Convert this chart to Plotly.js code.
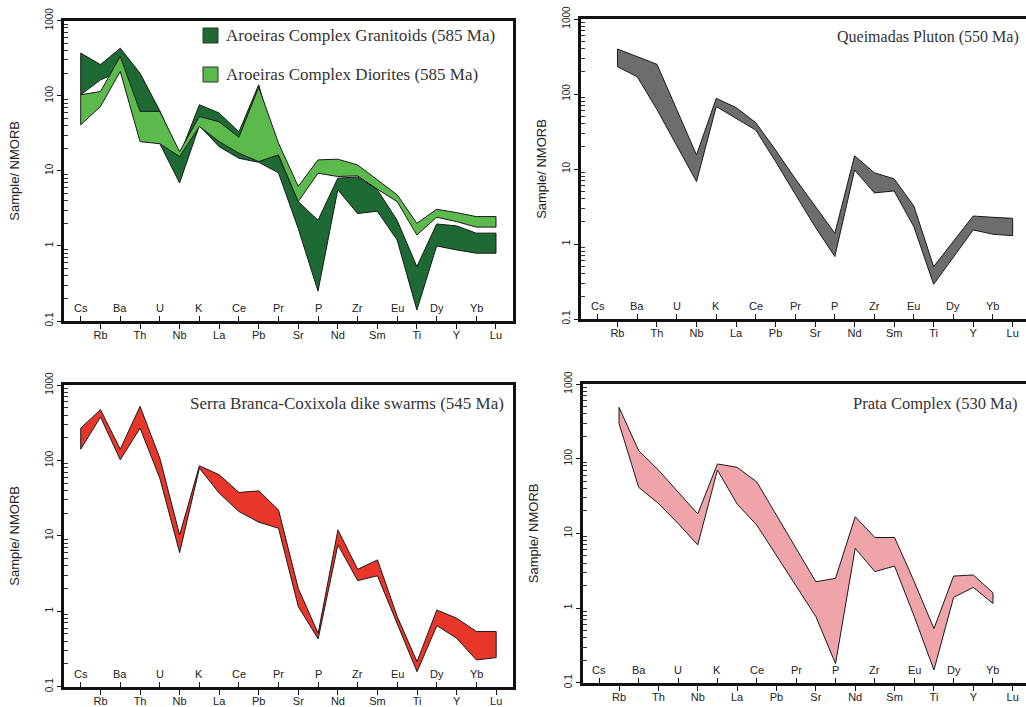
<!DOCTYPE html>
<html>
<head>
<meta charset="utf-8">
<script src="https://cdn.plot.ly/plotly-3.0.1.min.js"></script>
<style>
  html, body { margin: 0; padding: 0; background: #ffffff; overflow: hidden; }
  #chart { width: 1040px; height: 707px; }
</style>
</head>
<body>
<div id="chart"></div>
<script>
// ---------------- data ----------------
const ELEMENTS = ['Cs','Rb','Ba','Th','U','Nb','K','La','Ce','Pb','Pr','Sr','P','Nd','Zr','Sm','Eu','Ti','Dy','Y','Yb','Lu'];

// Aroeiras Complex Granitoids (585 Ma)
const GRAN_HI = [370, 260, 430, 200, 63, 16, 76, 59, 33, 140, 16, 3.9, 2.2, 8.0, 8.3, 5.6, 2.2, 0.53, 1.96, 1.85, 1.48, 1.48];
const GRAN_LO = [103, 163, 211, 62, 23, 6.9, 40, 21, 14.7, 13, 9.4, 1.7, 0.25, 5.6, 2.7, 2.9, 1.2, 0.14, 1.0, 0.885, 0.8, 0.8];
// Aroeiras Complex Diorites (585 Ma)
const DIOR_HI = [103, 114, 334, 62, 62, 18, 53, 45, 28, 130, 23.5, 6.2, 14, 14.3, 12, 7.6, 4.8, 2.0, 3.08, 2.78, 2.46, 2.46];
const DIOR_LO = [41, 72, 211, 24.5, 23, 15.5, 39, 24.5, 17.2, 13.3, 16.3, 3.9, 9.3, 8.4, 8.6, 5.7, 3.9, 1.4, 2.41, 2.11, 1.78, 1.78];
// Queimadas Pluton (550 Ma)
const QUEI_HI = [null, 398, 316, 249, 62, 15.4, 87.5, 66, 41.5, 17.9, 7.4, 3.15, 1.39, 15, 8.9, 7.4, 3.2, 0.5, 1.07, 2.36, 2.27, 2.2];
const QUEI_LO = [null, 231, 170, 62, 21, 6.8, 68, 47, 33, 12.6, 4.6, 1.7, 0.68, 9.7, 4.8, 5.1, 1.7, 0.29, 0.66, 1.54, 1.35, 1.29];
// Serra Branca-Coxixola dike swarms (545 Ma)
const SERRA_HI = [268, 471, 141, 521, 107, 10.3, 85, 64.5, 37.6, 39.5, 22, 2.0, 0.51, 12, 3.6, 4.8, 0.85, 0.215, 1.04, 0.81, 0.54, 0.54];
const SERRA_LO = [141, 376, 102, 268, 58, 6.0, 79, 36.8, 21, 15.2, 12.6, 1.15, 0.43, 7.6, 2.55, 2.95, 0.69, 0.158, 0.645, 0.44, 0.226, 0.243];
// Prata Complex (530 Ma)
const PRATA_HI = [null, 487, 128, 70.5, 36, 18.2, 85, 76.6, 48.8, 17.3, 6.3, 2.25, 2.5, 16.7, 8.8, 8.8, 2.25, 0.53, 2.68, 2.77, 1.6, null];
const PRATA_LO = [null, 297, 41.3, 25.2, 13.6, 7.0, 70.5, 24.7, 12.9, 4.97, 1.97, 0.77, 0.18, 6.3, 3.07, 3.65, 0.77, 0.148, 1.39, 1.89, 1.15, null];

const Y_TICKS = [0.1, 1, 10, 100, 1000];
const Y_TICKTEXT = ['0.1', '1', '10', '100', '1000'];
const Y_TITLE = 'Sample/ NMORB';

const TITLES = {
  gran: 'Aroeiras Complex Granitoids (585 Ma)',
  dior: 'Aroeiras Complex Diorites (585 Ma)',
  quei: 'Queimadas Pluton (550 Ma)',
  serra: 'Serra Branca-Coxixola dike swarms (545 Ma)',
  prata: 'Prata Complex (530 Ma)'
};

// ---------------- layout helpers ----------------
const W = 1040, H = 707;
const px = v => v / W;
const py = v => 1 - v / H;
const dX = (a, b) => [a / W, b / W];
const dY = (top, bottom) => [1 - bottom / H, 1 - top / H];

const COLORS = {
  gran: '#1d6a35',
  dior: '#5cba4d',
  quei: '#6c6e6e',
  serra: '#e8362a',
  prata: '#efa4aa'
};

function envelope(hi, lo, xa, ya, color, name) {
  const xs = [], ys = [];
  ELEMENTS.forEach((e, i) => { if (hi[i] != null) { xs.push(i); ys.push(hi[i]); } });
  for (let i = ELEMENTS.length - 1; i >= 0; i--) {
    if (lo[i] != null) { xs.push(i); ys.push(lo[i]); }
  }
  xs.push(xs[0]); ys.push(ys[0]);
  return {
    type: 'scatter', mode: 'lines', x: xs, y: ys,
    fill: 'toself', fillcolor: color,
    line: { color: '#1a1a1a', width: 1 },
    xaxis: xa, yaxis: ya, name: name, showlegend: false, hoverinfo: 'skip'
  };
}

const oddIdx = ELEMENTS.map((e, i) => i).filter(i => i % 2 === 1);
const evenIdx = ELEMENTS.map((e, i) => i).filter(i => i % 2 === 0);
const minorY = [];
[-1, 0, 1, 2].forEach(d => { for (let k = 2; k <= 9; k++) minorY.push(k * Math.pow(10, d)); });

const SANS = 'Liberation Sans, Arial, Helvetica, sans-serif';
const SERIF = 'Liberation Serif, Times New Roman, serif';

function makeX(domain, anchor) {
  return {
    domain: domain, anchor: anchor, range: [-0.85, 21.85],
    showline: true, mirror: true, linewidth: 3, linecolor: '#111',
    showgrid: false, zeroline: false,
    tickmode: 'array', tickvals: oddIdx, ticktext: oddIdx.map(i => ELEMENTS[i]),
    ticks: 'outside', ticklen: 5, tickwidth: 1, tickcolor: '#111',
    ticklabelstandoff: -3,
    tickfont: { family: SANS, size: 11, color: '#222' },
    minor: { tickvals: evenIdx, ticks: 'inside', ticklen: 5, tickwidth: 1, tickcolor: '#111', showgrid: false },
    fixedrange: true
  };
}
function makeY(domain, anchor, standoff) {
  return {
    domain: domain, anchor: anchor, type: 'log', range: [-1, 3],
    showline: true, mirror: true, linewidth: 3, linecolor: '#111',
    showgrid: false, zeroline: false,
    tickmode: 'array', tickvals: Y_TICKS, ticktext: Y_TICKTEXT,
    ticks: 'outside', ticklen: 4, tickwidth: 1, tickcolor: '#111', tickangle: -90,
    tickfont: { family: SANS, size: 10, color: '#222' },
    minor: { tickvals: minorY, ticks: 'inside', ticklen: 4, tickwidth: 1, tickcolor: '#333', showgrid: false },
    title: { text: Y_TITLE, font: { family: SANS, size: 13, color: '#222' }, standoff: standoff },
    fixedrange: true
  };
}

const traces = [
  envelope(GRAN_HI, GRAN_LO, 'x', 'y', COLORS.gran, TITLES.gran),
  envelope(DIOR_HI, DIOR_LO, 'x', 'y', COLORS.dior, TITLES.dior),
  envelope(QUEI_HI, QUEI_LO, 'x2', 'y2', COLORS.quei, TITLES.quei),
  envelope(SERRA_HI, SERRA_LO, 'x3', 'y3', COLORS.serra, TITLES.serra),
  envelope(PRATA_HI, PRATA_LO, 'x4', 'y4', COLORS.prata, TITLES.prata)
];

// inner (upper-row) element labels
const annotations = [];
[['y', 'x'], ['y2', 'x2'], ['y3', 'x3'], ['y4', 'x4']].forEach(([ya, xa]) => {
  evenIdx.forEach(i => {
    annotations.push({
      xref: xa, yref: ya + ' domain', x: i, y: 0.043,
      text: ELEMENTS[i], showarrow: false, xanchor: 'center', yanchor: 'middle',
      font: { family: SANS, size: 11, color: '#222' }
    });
  });
});

// panel titles
const titleFont = { family: SERIF, size: 17, color: '#333' };
annotations.push({ xref: 'paper', yref: 'paper', x: px(1021), y: py(37), text: TITLES.quei, showarrow: false, xanchor: 'right', yanchor: 'middle', font: { family: SERIF, size: 16, color: '#333' } });
annotations.push({ xref: 'paper', yref: 'paper', x: px(506), y: py(403), text: TITLES.serra, showarrow: false, xanchor: 'right', yanchor: 'middle', font: titleFont });
annotations.push({ xref: 'paper', yref: 'paper', x: px(1020), y: py(403), text: TITLES.prata, showarrow: false, xanchor: 'right', yanchor: 'middle', font: { family: SERIF, size: 16.5, color: '#333' } });

// legend of first panel
annotations.push({ xref: 'paper', yref: 'paper', x: px(224), y: py(35.5), text: TITLES.gran, showarrow: false, xanchor: 'left', yanchor: 'middle', font: titleFont });
annotations.push({ xref: 'paper', yref: 'paper', x: px(224), y: py(74), text: TITLES.dior, showarrow: false, xanchor: 'left', yanchor: 'middle', font: titleFont });
const shapes = [
  { type: 'rect', xref: 'paper', yref: 'paper', x0: px(203), x1: px(218), y0: py(28), y1: py(43), fillcolor: COLORS.gran, line: { color: '#333', width: 1 } },
  { type: 'rect', xref: 'paper', yref: 'paper', x0: px(203), x1: px(218), y0: py(67), y1: py(82), fillcolor: COLORS.dior, line: { color: '#333', width: 1 } }
];

const layout = {
  width: W, height: H,
  margin: { l: 0, r: 0, t: 0, b: 0 },
  paper_bgcolor: '#ffffff', plot_bgcolor: '#ffffff',
  showlegend: false,
  font: { family: SANS, color: '#222' },
  xaxis: makeX(dX(63.9, 512.8), 'y'),
  yaxis: makeY(dY(20.7, 321), 'x', 22),
  xaxis2: makeX(dX(580.9, 1029.5), 'y2'),
  yaxis2: makeY(dY(19, 319), 'x2', 12),
  xaxis3: makeX(dX(63.9, 513), 'y3'),
  yaxis3: makeY(dY(385, 686.7), 'x3', 22),
  xaxis4: makeX(dX(582.6, 1029.4), 'y4'),
  yaxis4: makeY(dY(384, 682.7), 'x4', 22),
  annotations: annotations,
  shapes: shapes
};

Plotly.newPlot('chart', traces, layout, { staticPlot: true, displayModeBar: false });
</script>
</body>
</html>
